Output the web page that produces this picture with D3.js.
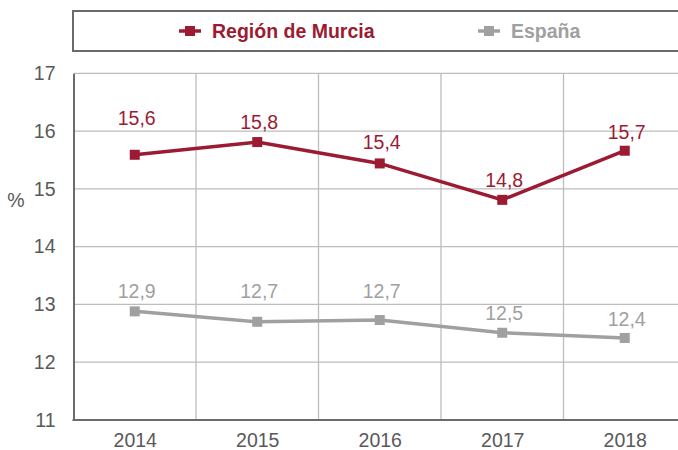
<!DOCTYPE html>
<html><head><meta charset="utf-8">
<script src="https://cdn.jsdelivr.net/npm/d3@7"></script>
<style>body{margin:0;background:#fff;}svg{display:block;font-family:"Liberation Sans",Arial,sans-serif;}</style>
</head><body>
<svg id="c" width="678" height="450"></svg>
<script>
const years = ["2014","2015","2016","2017","2018"];
const murcia = [15.59, 15.81, 15.44, 14.81, 15.66];
const espana = [12.88, 12.70, 12.73, 12.51, 12.42];
const yTicks = [11,12,13,14,15,16,17];
const seriesNames = ["Región de Murcia","España"];

const colMurcia = "#9B1B33", colEsp = "#A0A0A0";
const FS = 19.5;
const svg = d3.select("#c");
const L = 73.5, R = 686, T = 73.3, B = 420;
const x = d3.scalePoint().domain(years).range([L, R]).padding(0.5);
const y = d3.scaleLinear().domain([11,17]).range([B, T]);
const step = x.step();

// horizontal gridlines
svg.append("g").selectAll("line").data(yTicks.filter(d=>d>11)).join("line")
  .attr("x1", L).attr("x2", 678).attr("y1", d=>y(d)).attr("y2", d=>y(d))
  .attr("stroke", "#BDBDBD").attr("stroke-width", 1.3);
// vertical gridlines between categories
svg.append("g").selectAll("line").data(years.slice(1)).join("line")
  .attr("x1", d=>x(d)-step/2).attr("x2", d=>x(d)-step/2).attr("y1", T).attr("y2", B)
  .attr("stroke", "#BDBDBD").attr("stroke-width", 1.3);

// axes
const yAxis = svg.append("g").attr("transform", `translate(${L},0)`)
  .call(d3.axisLeft(y).tickValues(yTicks).tickFormat(d3.format("d")).tickSize(0).tickPadding(18));
yAxis.select(".domain").attr("stroke", "#6B6B6B").attr("stroke-width", 2);
yAxis.selectAll("text").attr("font-size", FS).attr("fill", "#595959").attr("font-family", "Liberation Sans, Arial, sans-serif");
const xAxis = svg.append("g").attr("transform", `translate(0,${B})`)
  .call(d3.axisBottom(x).tickSize(0).tickPadding(13));
xAxis.select(".domain").attr("d", `M${L-1},0H678`).attr("stroke", "#6B6B6B").attr("stroke-width", 2);
xAxis.selectAll("text").attr("font-size", FS).attr("fill", "#595959").attr("font-family", "Liberation Sans, Arial, sans-serif").attr("dy", "0.71em");

svg.append("text").attr("x", 16).attr("y", 207).attr("text-anchor", "middle")
  .attr("font-size", FS).attr("fill", "#595959").text("%");

const fmt = v => d3.format(".1f")(v).replace(".", ",");
const line = d3.line().x((d,i)=>x(years[i])).y(d=>y(d));
function drawSeries(vals, col, labelDy) {
  svg.append("path").datum(vals).attr("d", line).attr("fill", "none")
    .attr("stroke", col).attr("stroke-width", 3.5);
  svg.append("g").selectAll("rect").data(vals).join("rect")
    .attr("x", (d,i)=>x(years[i])-5).attr("y", d=>y(d)-5).attr("width", 10).attr("height", 10).attr("fill", col);
  svg.append("g").selectAll("text").data(vals).join("text")
    .attr("x", (d,i)=>x(years[i])+2).attr("y", (d,i)=>y(d)-labelDy[i])
    .attr("text-anchor", "middle").attr("font-size", FS).attr("fill", col).text(d=>fmt(d));
}
drawSeries(espana, colEsp, [13, 24, 22, 13, 12]);
drawSeries(murcia, colMurcia, [30, 13, 14, 13, 12]);

// legend
svg.append("rect").attr("x", 73).attr("y", 11).attr("width", 640).attr("height", 40)
  .attr("fill", "#fff").attr("stroke", "#6B6B6B").attr("stroke-width", 2);
const leg = [{name: seriesNames[0], col: colMurcia, x: 179},
             {name: seriesNames[1], col: colEsp, x: 478}];
const lg = svg.append("g").selectAll("g").data(leg).join("g").attr("transform", d=>`translate(${d.x},31)`);
lg.append("line").attr("x1", 0).attr("x2", 22).attr("stroke", d=>d.col).attr("stroke-width", 3.5);
lg.append("rect").attr("x", 6).attr("y", -5).attr("width", 10).attr("height", 10).attr("fill", d=>d.col);
lg.append("text").attr("x", 33).attr("y", 7).attr("font-size", FS).attr("font-weight", "bold")
  .attr("fill", d=>d.col).text(d=>d.name);
</script>
</body></html>
